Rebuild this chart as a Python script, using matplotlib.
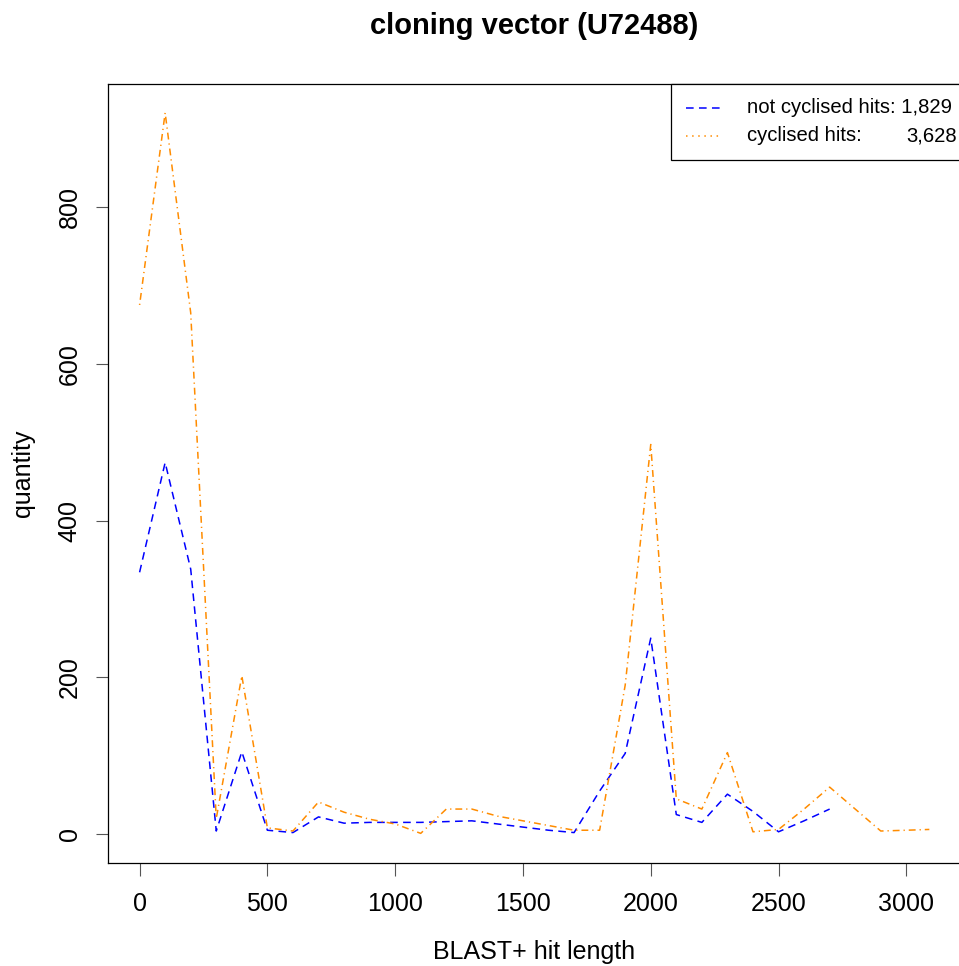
import matplotlib
matplotlib.use("Agg")
import matplotlib.pyplot as plt
from matplotlib.lines import Line2D
from matplotlib.patches import Rectangle

plt.rcParams['font.family'] = ['Liberation Sans', 'DejaVu Sans']

# hit length bins (bp)
lengths_plain = [0, 100, 200, 300, 400, 500, 600, 700, 800, 900, 1000, 1100, 1200, 1300,
                 1400, 1500, 1600, 1700, 1800, 1900, 2000, 2100, 2200, 2300, 2400, 2500,
                 2600, 2700]
counts_plain = [334, 474, 338, 4, 105, 5, 2, 22, 14, 15, 15, 15, 16, 17,
                13, 9, 5, 2, 55, 103, 250, 25, 15, 51, 29, 3, 17, 32]

lengths_cyc = [0, 100, 200, 300, 400, 500, 600, 700, 800, 900, 1000, 1100, 1200, 1300,
               1400, 1500, 1600, 1700, 1800, 1900, 2000, 2100, 2200, 2300, 2400, 2500,
               2600, 2700, 2800, 2900, 3000, 3090]
counts_cyc = [675, 920, 665, 20, 202, 8, 4, 41, 28, 19, 13, 1, 32, 32,
              23, 17, 11, 5, 5, 190, 497, 45, 32, 104, 3, 6, 32, 60, 32, 4, 5, 6]

label_plain = "not cyclised hits: 1,829"
label_cyc = "cyclised hits:"
total_cyc = "3,628"

xticks = [0, 500, 1000, 1500, 2000, 2500, 3000]
yticks = [0, 200, 400, 600, 800]

W, H = 959, 966
fig = plt.figure(figsize=(W / 100, H / 100), dpi=100)
ax = fig.add_axes([108 / W, 1 - 863 / H, (959 - 108) / W + 0.002, (863 - 84) / H])

lw = 1.1
ax.plot(lengths_plain, counts_plain, color='blue', lw=lw, dashes=(5, 3.5))
ax.plot(lengths_cyc, counts_cyc, color='darkorange', lw=lw, dashes=(0.8, 2.6, 4.5, 2.6))

# R-style 4% padding around the data range
xmin, xmax = 0, max(lengths_cyc)
ymin, ymax = 0, max(counts_cyc)
dx, dy = 0.04 * (xmax - xmin), 0.04 * (ymax - ymin)
ax.set_xlim(xmin - dx, xmax + dx)
ax.set_ylim(ymin - dy, ymax + dy)

ax.set_xticks(xticks)
ax.set_xticklabels([str(t) for t in xticks])
ax.set_yticks(yticks)
ax.set_yticklabels([str(t) for t in yticks], rotation=90, va='center')
ax.tick_params(axis='both', labelsize=18, length=9, width=0.8, direction='out',
               color='#555555')
ax.tick_params(axis='x', pad=12)
ax.tick_params(axis='y', pad=10)
for s in ax.spines.values():
    s.set_linewidth(0.9)

ax.set_xlabel("BLAST+ hit length", fontsize=18, labelpad=17)
ax.set_ylabel("quantity", fontsize=18, labelpad=16)
ax.set_title("cloning vector (U72488)", fontsize=21, fontweight='bold', pad=36)

# legend box in the top right corner
ax.add_patch(Rectangle((0.660, 0.9024), 0.36, 0.0976, transform=ax.transAxes,
                       facecolor='white', edgecolor='black', lw=0.9, clip_on=False, zorder=5))
rows = [(0.9693, 'blue', (5, 3.5), label_plain, None),
        (0.9333, 'darkorange', (1, 3), label_cyc, total_cyc)]
for yy, col, dash, lab, num in rows:
    ax.add_line(Line2D([0.678, 0.719], [yy, yy], transform=ax.transAxes, color=col,
                       lw=lw, dashes=dash, zorder=6))
    ax.text(0.749, yy, lab, transform=ax.transAxes, fontsize=14.6, va='center',
            ha='left', zorder=6)
    if num:
        ax.text(0.9953, yy, num, transform=ax.transAxes, fontsize=14.6, va='center',
                ha='right', zorder=6)

fig.savefig("out.png", dpi=100)
